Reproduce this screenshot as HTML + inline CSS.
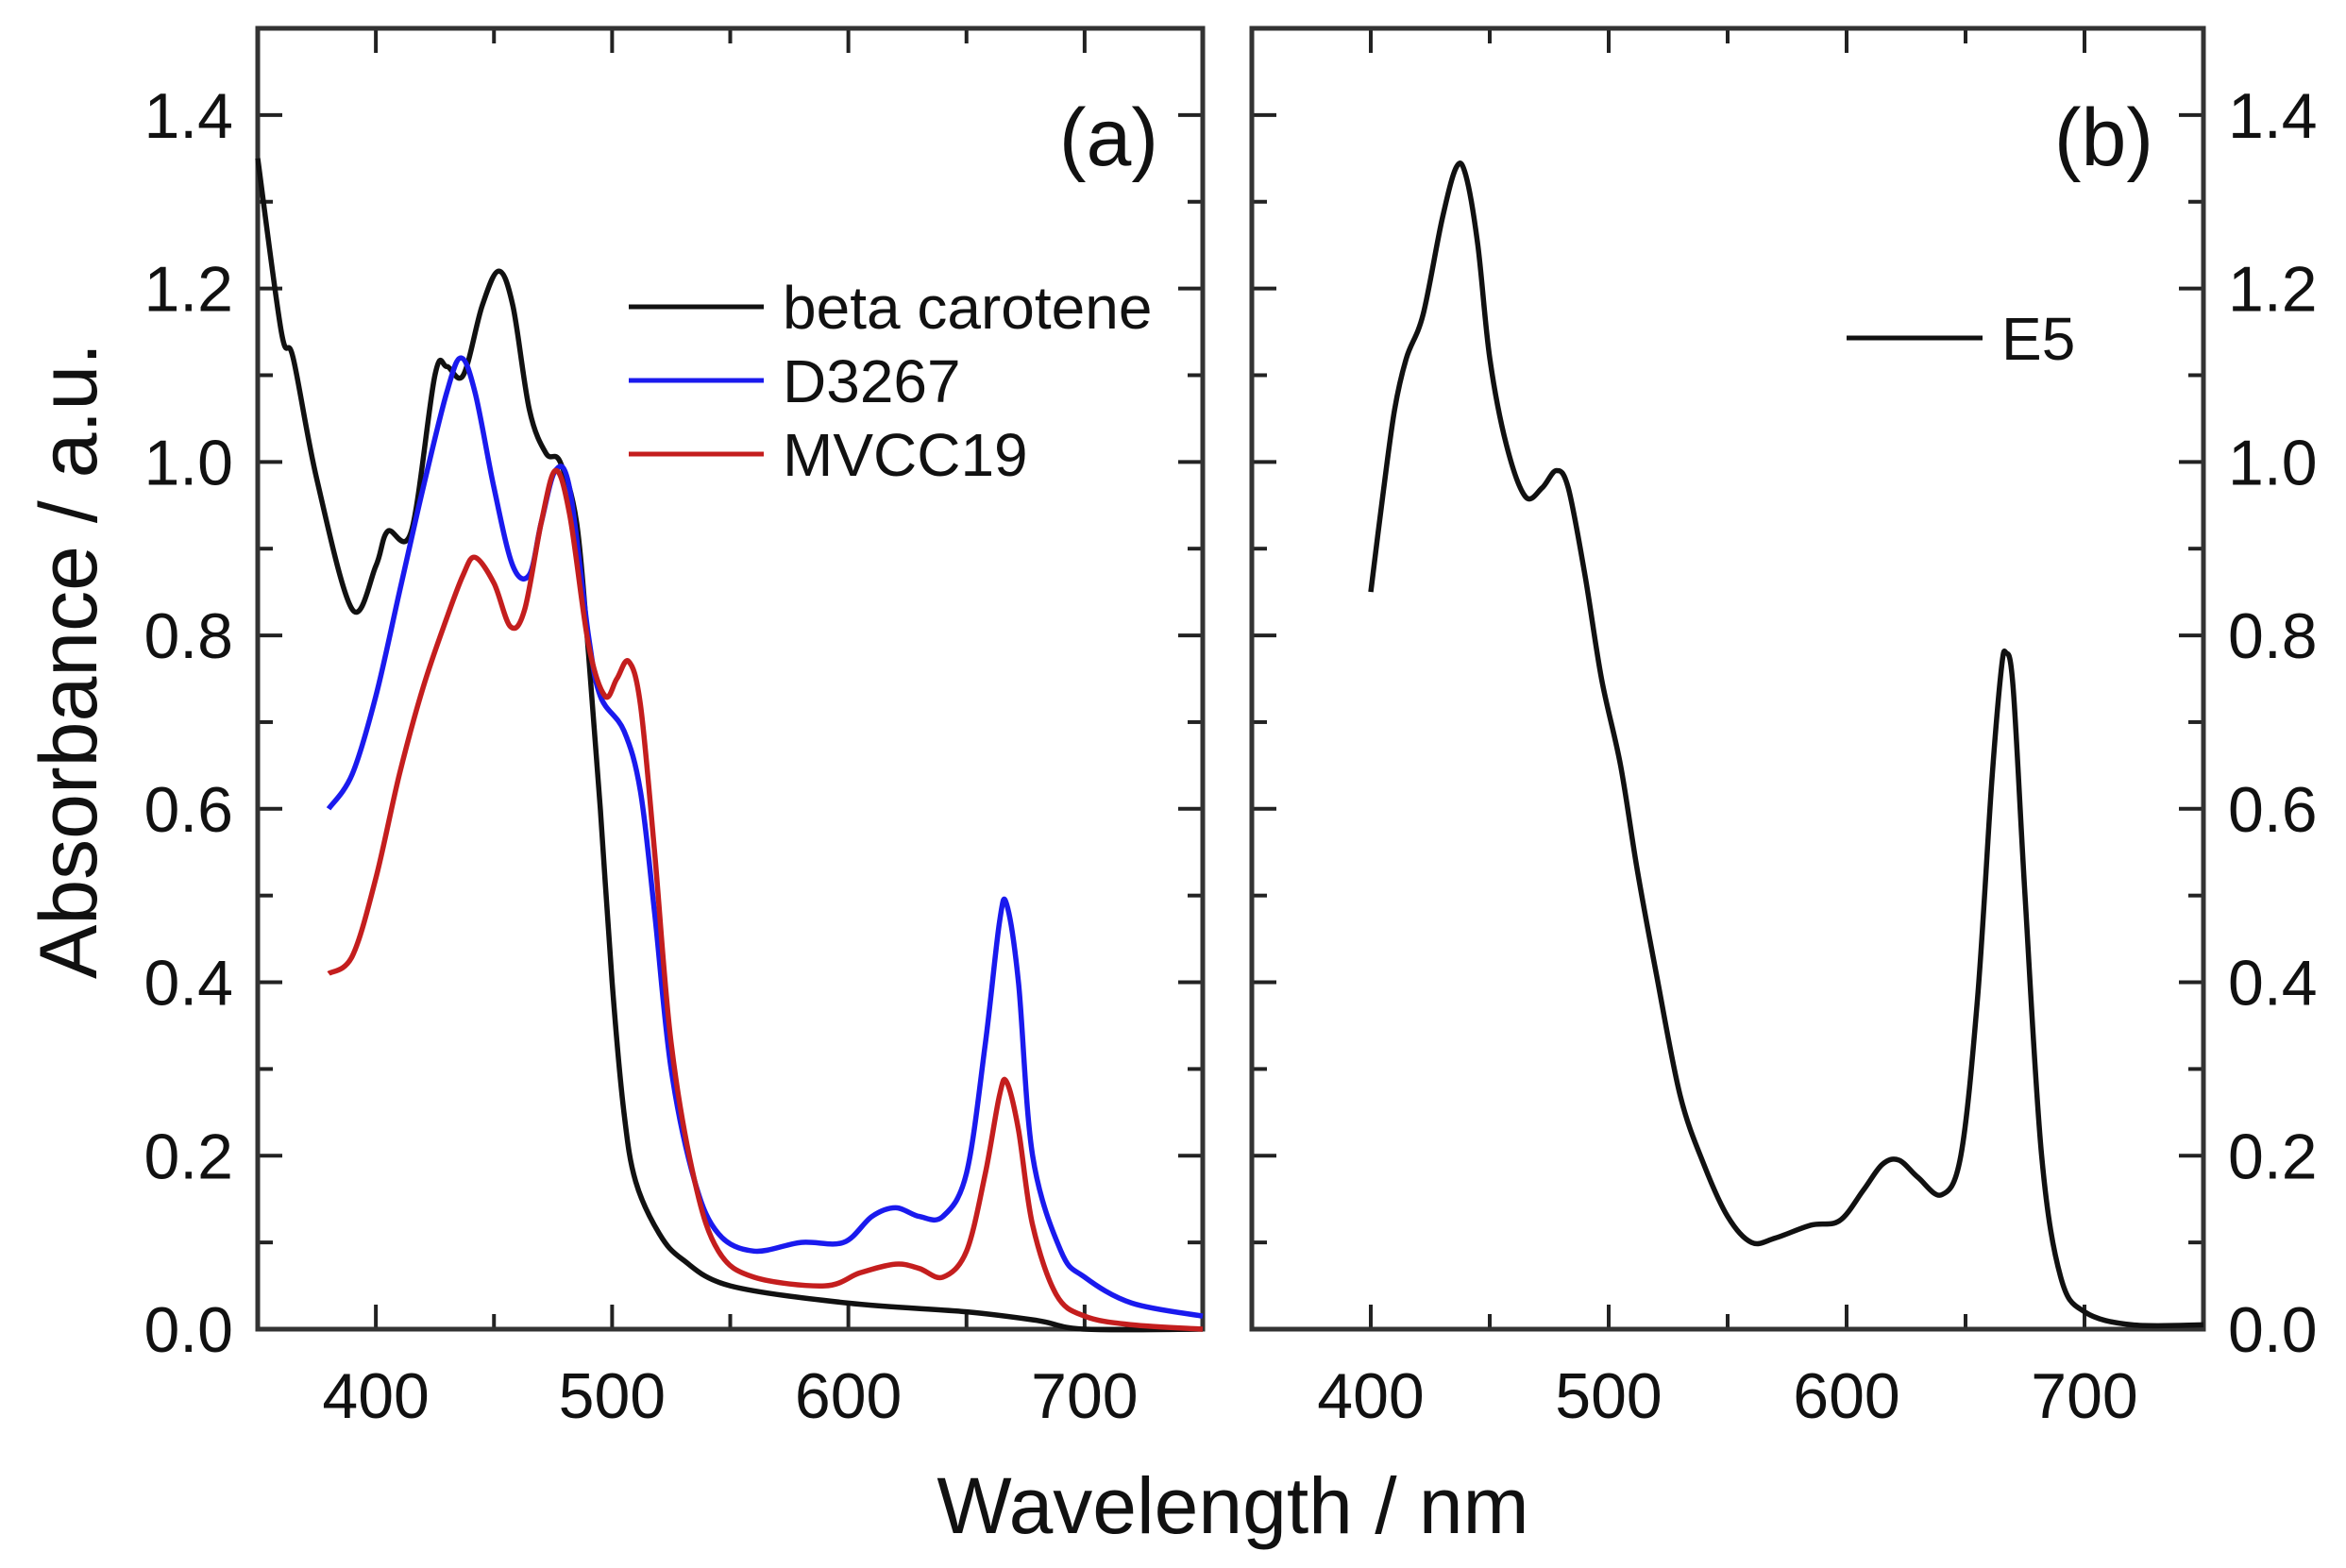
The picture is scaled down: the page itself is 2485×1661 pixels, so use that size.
<!DOCTYPE html>
<html><head><meta charset="utf-8"><style>
html,body{margin:0;padding:0;background:#fff;}
svg{display:block;}
text{font-family:"Liberation Sans",Arial,sans-serif;fill:#111;}
</style></head><body>
<svg id="chart" width="2485" height="1661" viewBox="0 0 2485 1661"></svg>
<script>
const wlBeta=[350,360,365,375,390,400,405,415,425,430,437,445,452,458,465,472,478,485,490,495,500,505,510,520,530,550,600,650,680,700,750];
const absBeta=[1.35,1.15,1.12,0.98,0.83,0.88,0.92,0.92,1.1,1.11,1.10,1.18,1.22,1.18,1.06,1.01,1.0,0.93,0.78,0.6,0.4,0.25,0.17,0.11,0.08,0.05,0.03,0.02,0.01,0.0,0.0];
const wlD=[380,390,400,410,420,430,436,442,450,458,465,470,476,482,490,495,505,512,518,525,535,545,560,580,598,610,620,630,640,650,658,664,667,672,678,690,700,720,750];
const absD=[0.60,0.64,0.73,0.85,0.97,1.08,1.12,1.08,0.97,0.88,0.87,0.93,0.99,0.97,0.80,0.73,0.69,0.62,0.48,0.30,0.17,0.11,0.09,0.10,0.10,0.13,0.14,0.13,0.13,0.18,0.33,0.47,0.49,0.40,0.20,0.09,0.06,0.03,0.015];
const wlM=[380,390,400,410,420,430,437,442,450,457,463,470,476,482,490,497,502,507,512,518,525,535,545,560,590,605,620,630,640,650,658,664,667,672,678,688,700,720,750];
const absM=[0.41,0.43,0.52,0.64,0.74,0.82,0.87,0.89,0.86,0.81,0.83,0.93,0.99,0.94,0.79,0.73,0.75,0.77,0.72,0.55,0.33,0.17,0.09,0.06,0.05,0.065,0.075,0.07,0.06,0.09,0.18,0.27,0.285,0.23,0.12,0.04,0.015,0.005,0.0];
const wlE=[400,405,410,415,422,430,436,440,445,450,457,465,472,478,483,490,497,505,512,520,530,540,550,560,570,585,597,607,615,622,630,640,648,655,661,665,667,670,675,682,690,700,720,750];
const absE=[0.85,0.96,1.06,1.12,1.17,1.28,1.34,1.33,1.25,1.12,1.02,0.96,0.97,0.99,0.97,0.87,0.75,0.65,0.53,0.41,0.27,0.19,0.13,0.10,0.105,0.12,0.125,0.16,0.19,0.195,0.175,0.155,0.2,0.38,0.63,0.76,0.78,0.74,0.5,0.2,0.06,0.02,0.005,0.005];
const xTicks=[400,500,600,700];
const yTicks=[0.0,0.2,0.4,0.6,0.8,1.0,1.2,1.4];

const svg=document.getElementById('chart');
const NS='http://www.w3.org/2000/svg';
function mk(tag,attrs,parent){const e=document.createElementNS(NS,tag);for(const k in attrs)e.setAttribute(k,attrs[k]);(parent||svg).appendChild(e);return e;}
const TOP=30,BOT=1408;
const yS=v=>BOT-(v/1.5)*(BOT-TOP);
function panel(L,R,name,labelsRight){
  const xS=w=>L+(w-350)/400*(R-L);
  const g=mk('g',{});
  
  
  for(let w=400;w<750;w+=50){
    const len=(w%100===0)?26:16;
    mk('line',{x1:xS(w),x2:xS(w),y1:BOT,y2:BOT-len,stroke:'#222','stroke-width':4},g);
    mk('line',{x1:xS(w),x2:xS(w),y1:TOP,y2:TOP+len,stroke:'#222','stroke-width':4},g);
  }
  for(let i=1;i<15;i++){
    const v=i/10,len=(i%2===0)?26:16;
    mk('line',{x1:L,x2:L+len,y1:yS(v),y2:yS(v),stroke:'#222','stroke-width':4},g);
    mk('line',{x1:R,x2:R-len,y1:yS(v),y2:yS(v),stroke:'#222','stroke-width':4},g);
  }
  xTicks.forEach(t=>{const e=mk('text',{x:xS(t),y:1502,'font-size':68,'text-anchor':'middle'},g);e.textContent=t;
    
    });
  yTicks.forEach(t=>{const e=mk('text',{x:labelsRight?R+26:L-26,y:yS(t)+24,'font-size':68,'text-anchor':labelsRight?'start':'end'},g);e.textContent=t.toFixed(1);
    
    });
  mk('rect',{x:L,y:TOP,width:R-L,height:BOT-TOP,fill:'none',stroke:'#333','stroke-width':5},g);
  return xS;
}
function curve(xs,ys,xS,color,name){
  const p=xs.map((w,i)=>[xS(w),yS(ys[i])]);
  let d='M'+p[0][0].toFixed(1)+','+p[0][1].toFixed(1);
  for(let i=0;i<p.length-1;i++){
    const p0=p[Math.max(0,i-1)],p1=p[i],p2=p[i+1],p3=p[Math.min(p.length-1,i+2)];
    const c1=[p1[0]+(p2[0]-p0[0])/6,p1[1]+(p2[1]-p0[1])/6];
    const c2=[p2[0]-(p3[0]-p1[0])/6,p2[1]-(p3[1]-p1[1])/6];
    d+=' C'+c1.map(v=>v.toFixed(1)).join(',')+' '+c2.map(v=>v.toFixed(1)).join(',')+' '+p2[0].toFixed(1)+','+p2[1].toFixed(1);
  }
  const e=mk('path',{d:d,fill:'none',stroke:color,'stroke-width':5.5,'stroke-linejoin':'round'});
  
  
}
const xa=panel(273,1274,'panel-a',false);
const xb=panel(1326,2334,'panel-b',true);
curve(wlBeta,absBeta,xa,'#111','line-beta-carotene');
curve(wlD,absD,xa,'#1a1aee','line-d3267');
curve(wlM,absM,xa,'#c41e1e','line-mvcc19');
curve(wlE,absE,xb,'#111','line-e5');
function legend(x1,x2,y,color,label,name){
  const g=mk('g',{});
  
  
  mk('line',{x1:x1,x2:x2,y1:y,y2:y,stroke:color,'stroke-width':5},g);
  const t=mk('text',{x:x2+20,y:y+23,'font-size':64},g);t.textContent=label;
}
legend(666,809,325,'#111','beta carotene','legend-beta-carotene');
legend(666,809,403,'#1a1aee','D3267','legend-d3267');
legend(666,809,481,'#c41e1e','MVCC19','legend-mvcc19');
legend(1956,2100,358,'#111','E5','legend-e5');
let t=mk('text',{x:1227,y:175,'font-size':86,'text-anchor':'end'});t.textContent='(a)';

t=mk('text',{x:2281,y:175,'font-size':86,'text-anchor':'end'});t.textContent='(b)';

t=mk('text',{x:1306,y:1624,'font-size':84,'text-anchor':'middle'});t.textContent='Wavelength / nm';

t=mk('text',{x:0,y:0,'font-size':86,'text-anchor':'middle',transform:'translate(102,700) rotate(-90)'});t.textContent='Absorbance / a.u.';

</script>
</body></html>
